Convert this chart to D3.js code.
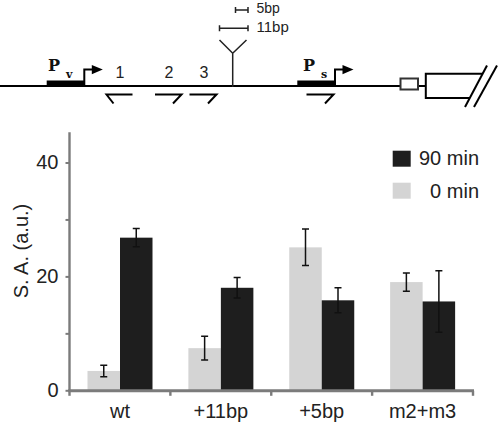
<!DOCTYPE html>
<html>
<head>
<meta charset="utf-8">
<script src="https://cdn.jsdelivr.net/npm/d3@7"></script>
<style>
html,body{margin:0;padding:0;background:#fff;}
svg{display:block;font-family:"Liberation Sans",Arial,sans-serif;}
</style>
</head>
<body>
<svg id="chart" width="500" height="423"></svg>
<script>
// ---- data ----
const categories = ["wt", "+11bp", "+5bp", "m2+m3"];
const series = ["0 min", "90 min"];
const values0 = [3.4, 7.4, 25.1, 19.0];
const errors0 = [1.0, 2.1, 3.2, 1.6];
const values90 = [26.8, 18.0, 15.8, 15.6];
const errors90 = [1.6, 1.8, 2.2, 5.4];
const yTicks = [0, 10, 20, 30, 40];
const yTickLabels = ["0", "", "20", "", "40"];
const siteLabels = ["1", "2", "3"];
const insertLabels = ["5bp", "11bp"];

const svg = d3.select("#chart");
const ink = "#222";
const axisCol = "#7b7b7b";
const colors = {"0 min": "#d4d4d4", "90 min": "#1e1e1e"};
const serifBold = "'DejaVu Serif','Liberation Serif',serif";

// ---- schematic (top) ----
const g0 = svg.append("g").attr("fill", "none").attr("stroke", "#000");
g0.append("line").attr("x1", 0).attr("x2", 400).attr("y1", 86).attr("y2", 86).attr("stroke-width", 2);
g0.append("line").attr("x1", 418).attr("x2", 426).attr("y1", 86).attr("y2", 86).attr("stroke-width", 2);
g0.append("rect").attr("x", 400.5).attr("y", 78.5).attr("width", 17.5).attr("height", 11)
  .attr("fill", "#fff").attr("stroke", "#333").attr("stroke-width", 2);
g0.append("path").attr("d", "M483,73.8 H425.8 V98 H470").attr("stroke-width", 2);
g0.append("line").attr("x1", 487).attr("y1", 65.5).attr("x2", 465).attr("y2", 107).attr("stroke-width", 2);
g0.append("line").attr("x1", 497).attr("y1", 65.5).attr("x2", 474).attr("y2", 107).attr("stroke-width", 2);

function promoter(x0, x1, sub, px) {
  svg.append("rect").attr("x", x0).attr("y", 80.5).attr("width", x1 - x0).attr("height", 6.5).attr("fill", "#000");
  svg.append("path").attr("d", `M${x1},86 V69.6 H${x1 + 8}`).attr("fill", "none").attr("stroke", "#000").attr("stroke-width", 2);
  svg.append("path").attr("d", `M${x1 + 7.5},65 L${x1 + 18.5},69.6 L${x1 + 7.5},74.2 Z`).attr("fill", "#000");
  svg.append("text").attr("x", px).attr("y", 70.5).attr("font-family", serifBold)
    .attr("font-weight", "bold").attr("font-size", 16).attr("fill", "#111").text("P");
  svg.append("text").attr("x", px + 18).attr("y", 78).attr("font-family", serifBold)
    .attr("font-weight", "bold").attr("font-size", 11).attr("fill", "#111").text(sub);
}
promoter(46.7, 84.3, "v", 48);
promoter(297.3, 335, "s", 303);

const siteX = [120, 169, 204];
siteLabels.forEach((s, i) => {
  svg.append("text").attr("x", siteX[i]).attr("y", 78).attr("text-anchor", "middle")
    .attr("font-size", 16).attr("fill", ink).text(s);
});

// primers (half arrows)
const gp = svg.append("g").attr("fill", "none").attr("stroke", "#000").attr("stroke-width", 2);
gp.append("path").attr("d", "M132.5,94.5 H106.5 L113.5,103.5");
gp.append("path").attr("d", "M155,94.5 H181.5 L173,103.5");
gp.append("path").attr("d", "M189.5,94.5 H216.5 L208,103.5");
gp.append("path").attr("d", "M306.5,94.5 H333.5 L325,103.5");

// insertion site
const gi = svg.append("g").attr("fill", "none").attr("stroke", "#222").attr("stroke-width", 1.5);
gi.append("path").attr("d", "M219.5,40 L232.7,53.3 L246.5,40 M232.7,53.3 V87");
gi.append("path").attr("d", "M235.5,10 H248 M235.5,7 V13 M248,7 V13");
gi.append("path").attr("d", "M219.5,28.3 H248 M219.5,25.3 V31.3 M248,25.3 V31.3");
svg.append("text").attr("x", 256.5).attr("y", 13).attr("font-size", 14).attr("fill", ink).text(insertLabels[0]);
svg.append("text").attr("x", 256.5).attr("y", 31.5).attr("font-size", 15).attr("fill", ink).text(insertLabels[1]);

// ---- bar chart ----
const x = d3.scaleBand().domain(categories).range([69.5, 473]).paddingInner(0).paddingOuter(0);
const xs = d3.scaleBand().domain(series).range([18, 83]);
const y = d3.scaleLinear().domain([0, 45.3]).range([390.3, 132.3]);

const rows = [];
categories.forEach((c, i) => {
  rows.push({cat: c, s: "0 min", v: values0[i], e: errors0[i]});
  rows.push({cat: c, s: "90 min", v: values90[i], e: errors90[i]});
});

svg.append("g").selectAll("rect").data(rows).join("rect")
  .attr("x", d => x(d.cat) + xs(d.s))
  .attr("width", xs.bandwidth())
  .attr("y", d => y(d.v))
  .attr("height", d => y(0) - y(d.v))
  .attr("fill", d => colors[d.s]);

const ge = svg.append("g").attr("stroke", "#111").attr("stroke-width", 1.5).attr("fill", "none");
rows.forEach(d => {
  const cx = x(d.cat) + xs(d.s) + xs.bandwidth() / 2;
  ge.append("path").attr("d",
    `M${cx},${y(d.v + d.e)} V${y(d.v - d.e)} M${cx - 3.5},${y(d.v + d.e)} H${cx + 3.5} M${cx - 3.5},${y(d.v - d.e)} H${cx + 3.5}`);
});

// y axis
const yAxis = d3.axisLeft(y).tickValues(yTicks).tickSize(4).tickPadding(7)
  .tickFormat((d, i) => yTickLabels[i]);
const gy = svg.append("g").attr("transform", "translate(69.5,0)").call(yAxis);
gy.select(".domain").attr("stroke", axisCol).attr("stroke-width", 2.4).attr("d", `M0,${y(45.3)} V${y(0) + 1}`);
gy.selectAll(".tick line").attr("stroke", axisCol).attr("stroke-width", 2);
gy.selectAll(".tick text").attr("font-size", 20).attr("fill", ink).attr("font-family", "'Liberation Sans',Arial,sans-serif");

// x axis
const xAxis = d3.axisBottom(x).tickSize(0).tickPadding(13);
const gx = svg.append("g").attr("transform", "translate(0,390.8)").call(xAxis);
gx.select(".domain").attr("stroke", axisCol).attr("stroke-width", 3).attr("d", `M68.3,0 H474`);
gx.selectAll(".tick text").attr("font-size", 20).attr("fill", ink).attr("font-family", "'Liberation Sans',Arial,sans-serif");
const boundaries = categories.map(c => x(c)).concat([x.range()[1]]);
gx.selectAll(".bnd").data(boundaries).join("line").attr("class", "bnd")
  .attr("x1", d => d).attr("x2", d => d).attr("y1", 0).attr("y2", 5)
  .attr("stroke", axisCol).attr("stroke-width", 2.4);

// y label
svg.append("text").attr("transform", "translate(28,251) rotate(-90)").attr("text-anchor", "middle")
  .attr("font-size", 20).attr("fill", ink).text("S. A. (a.u.)");

// legend
const legendOrder = ["90 min", "0 min"];
const lg = svg.append("g");
legendOrder.forEach((s, i) => {
  lg.append("rect").attr("x", 392.7).attr("y", 150.7 + i * 32).attr("width", 18).attr("height", 16).attr("fill", colors[s]);
  lg.append("text").attr("x", 479).attr("y", 165 + i * 32.5).attr("text-anchor", "end")
    .attr("font-size", 20).attr("fill", ink).text(s);
});
</script>
</body>
</html>
